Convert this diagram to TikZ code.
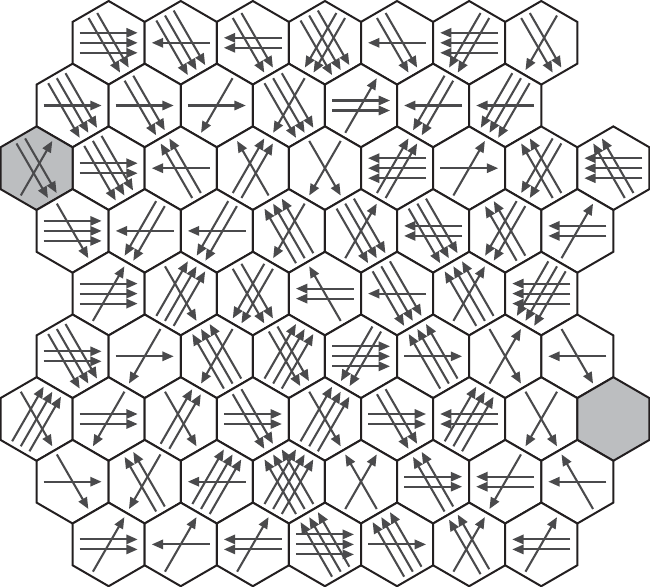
\documentclass[tikz,border=0pt]{standalone}
\usetikzlibrary{arrows.meta}
\definecolor{hexline}{HTML}{231F20}
\definecolor{arrowgray}{HTML}{4A4A4C}
\definecolor{hexgray}{HTML}{BCBEC0}
\def\dirE{0}\def\dirSE{60}\def\dirSW{120}\def\dirW{180}\def\dirNW{240}\def\dirNE{300}
\tikzset{
  hexedge/.style={draw=hexline, line width=1.5pt, line join=miter},
  flow/.style={draw=arrowgray, line width=1.55pt, -{Triangle[length=8.5pt,width=7pt]}},
}
\newcommand\hexcell[3]{%
  \pgfmathsetmacro\cx{0.5+36.05*#1}%
  \pgfmathsetmacro\cy{42.8+62.7*#2}%
  \filldraw[hexedge, fill=#3] (\cx-36.05,\cy-20.9) -- (\cx,\cy-41.8) -- (\cx+36.05,\cy-20.9)
     -- (\cx+36.05,\cy+20.9) -- (\cx,\cy+41.8) -- (\cx-36.05,\cy+20.9) -- cycle;
}
\newcommand\flows[3]{%
  \pgfmathsetmacro\cx{0.5+36.05*#1}%
  \pgfmathsetmacro\cy{42.8+62.7*#2}%
  \foreach \d/\num in {#3}{%
    \pgfmathsetmacro\ang{\csname dir\d\endcsname}%
    \pgfmathsetmacro\hl{ifthenelse(mod(\ang,180)==0,29,31.5)}%
    \foreach \i in {1,...,\num}{%
      \pgfmathsetmacro\off{(\i-(\num+1)/2)*10}%
      \draw[flow] ([shift={(\ang+90:\off)}]\cx,\cy) ++(\ang+180:\hl) -- ++(\ang:2*\hl);
    }%
  }%
}
\begin{document}
\begin{tikzpicture}[x=0.75pt,y=-0.75pt]
\useasboundingbox (0,0) rectangle (650,586);
% hexagons
\foreach \c in {3,5,...,15} {\hexcell{\c}{0}{white}}
\foreach \c in {2,4,...,14} {\hexcell{\c}{1}{white}}
\foreach \c in {3,5,...,17} {\hexcell{\c}{2}{white}}
\hexcell{1}{2}{hexgray}
\foreach \c in {2,4,...,16} {\hexcell{\c}{3}{white}}
\foreach \c in {3,5,...,15} {\hexcell{\c}{4}{white}}
\foreach \c in {2,4,...,16} {\hexcell{\c}{5}{white}}
\foreach \c in {1,3,...,15} {\hexcell{\c}{6}{white}}
\hexcell{17}{6}{hexgray}
\foreach \c in {2,4,...,16} {\hexcell{\c}{7}{white}}
\foreach \c in {3,5,...,15} {\hexcell{\c}{8}{white}}
% row 0
\flows{3}{0}{E/3,SE/2}
\flows{5}{0}{W/1,SE/3}
\flows{7}{0}{W/2,SE/2}
\flows{9}{0}{SE/3,SW/2}
\flows{11}{0}{W/1,SE/2}
\flows{13}{0}{W/3,SW/2}
\flows{15}{0}{SE/2,SW/1}
% row 1
\flows{2}{1}{E/1,SE/3}
\flows{4}{1}{E/1,SE/2}
\flows{6}{1}{E/1,SW/1}
\flows{8}{1}{SE/3,SW/1}
\flows{10}{1}{E/2,NE/1}
\flows{12}{1}{W/1,SW/2}
\flows{14}{1}{W/1,SW/3}
% row 2
\flows{1}{2}{NE/1,SE/2}
\flows{3}{2}{E/2,SE/3}
\flows{5}{2}{W/1,NW/2}
\flows{7}{2}{NE/2,NW/1}
\flows{9}{2}{SW/1,SE/1}
\flows{11}{2}{W/3,NE/2}
\flows{13}{2}{E/1,NE/1}
\flows{15}{2}{NW/2,SW/2}
\flows{17}{2}{W/3,NW/2}
% row 3
\flows{2}{3}{E/3,SE/1}
\flows{4}{3}{W/1,SW/2}
\flows{6}{3}{W/1,SW/2}
\flows{8}{3}{NW/3,SW/1}
\flows{10}{3}{SE/3,NE/1}
\flows{12}{3}{W/2,SE/3}
\flows{14}{3}{NW/2,SW/2}
\flows{16}{3}{W/2,NE/1}
% row 4
\flows{3}{4}{E/3,NE/1}
\flows{5}{4}{NE/3,SE/1}
\flows{7}{4}{SE/2,SW/2}
\flows{9}{4}{W/2,NW/1}
\flows{11}{4}{W/1,SE/3}
\flows{13}{4}{NW/3,NE/1}
\flows{15}{4}{W/3,SW/3}
% row 5
\flows{2}{5}{E/2,SE/3}
\flows{4}{5}{E/1,SW/1}
\flows{6}{5}{NW/3,SW/1}
\flows{8}{5}{NE/3,SE/2}
\flows{10}{5}{E/3,SW/2}
\flows{12}{5}{E/1,NW/3}
\flows{14}{5}{NE/1,SE/1}
\flows{16}{5}{W/1,SE/1}
% row 6
\flows{1}{6}{NE/3,SE/1}
\flows{3}{6}{E/2,SW/1}
\flows{5}{6}{NE/2,SE/1}
\flows{7}{6}{E/2,SE/2}
\flows{9}{6}{NE/3,SE/1}
\flows{11}{6}{E/2,SE/2}
\flows{13}{6}{W/2,NE/3}
\flows{15}{6}{SW/1,SE/1}
% row 7
\flows{2}{7}{E/1,SE/1}
\flows{4}{7}{NW/2,SW/1}
\flows{6}{7}{W/1,NE/3}
\flows{8}{7}{NW/3,NE/3}
\flows{10}{7}{NW/1,NE/1}
\flows{12}{7}{E/2,NW/2}
\flows{14}{7}{W/2,SW/1}
\flows{16}{7}{W/1,NW/1}
% row 8
\flows{3}{8}{E/2,NE/1}
\flows{5}{8}{W/1,NE/1}
\flows{7}{8}{W/2,NE/1}
\flows{9}{8}{E/3,NW/3}
\flows{11}{8}{E/1,NW/3}
\flows{13}{8}{NW/2,NE/1}
\flows{15}{8}{W/2,NE/1}
\end{tikzpicture}
\end{document}
